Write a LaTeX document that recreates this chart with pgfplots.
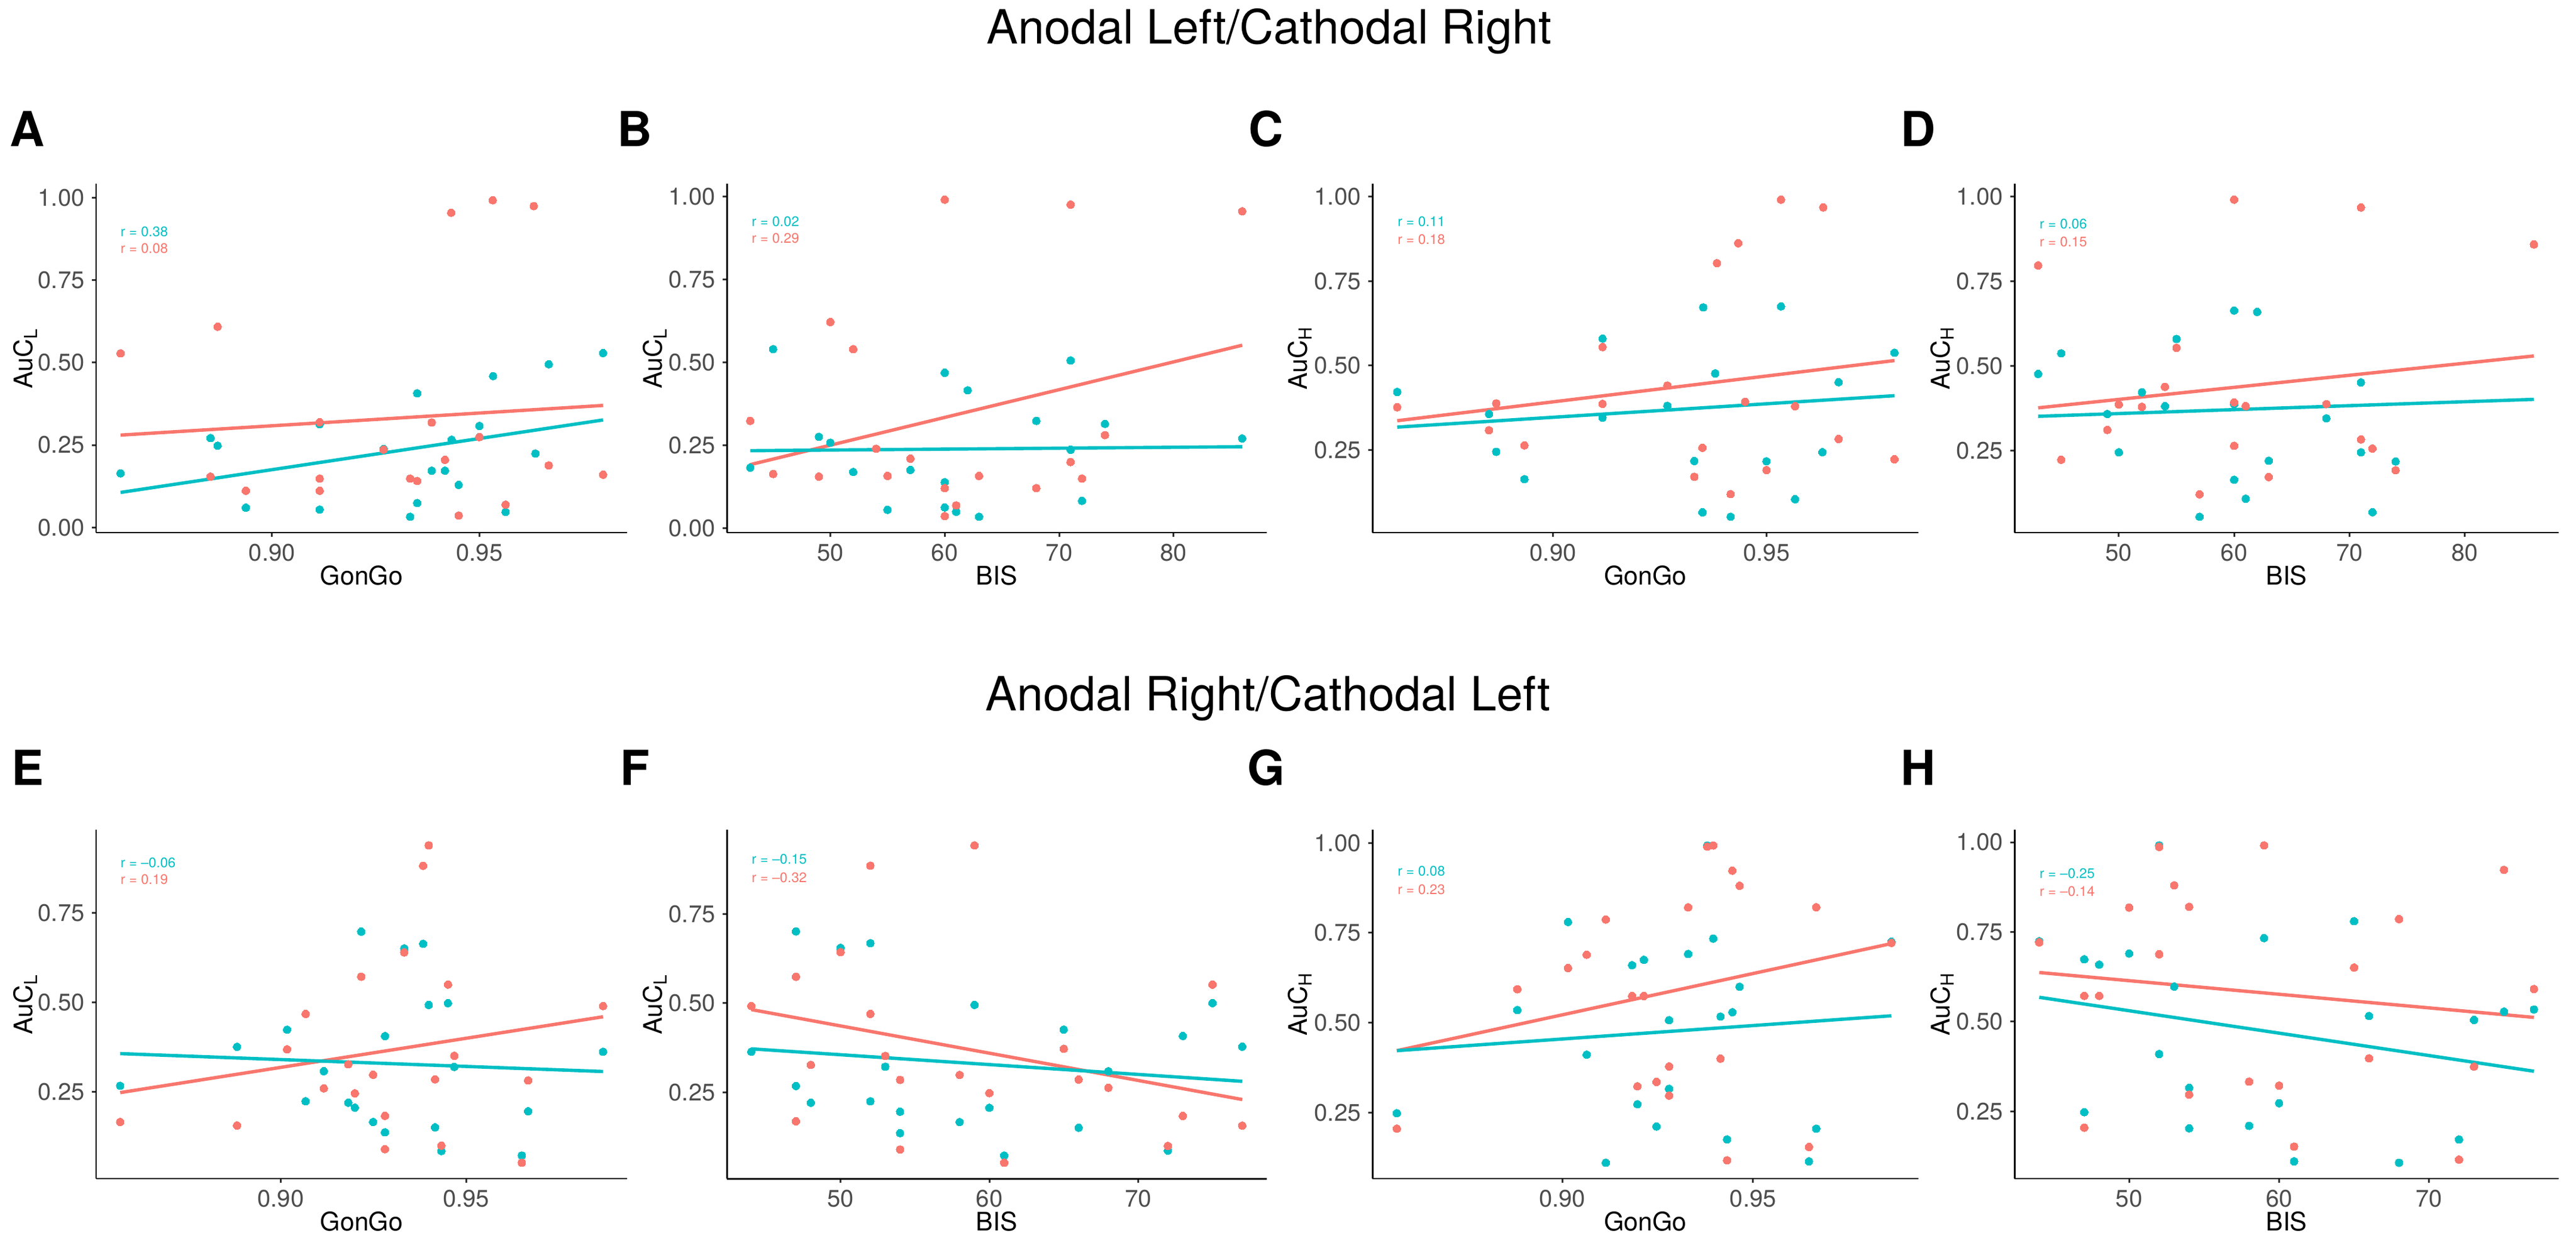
\documentclass[border=0pt]{standalone}
\usepackage{fontspec}
\setmainfont{TeX Gyre Heros}
\usepackage{pgfplots}
\pgfplotsset{compat=1.18}
\definecolor{ggred}{HTML}{F8766D}
\definecolor{ggteal}{HTML}{00BFC4}
\definecolor{tickgray}{HTML}{4D4D4D}
\newcommand\tickfont{\fontsize{11.4pt}{13pt}\selectfont}
\newcommand\labfont{\fontsize{12.2pt}{14pt}\selectfont}
\newcommand\rfont{\fontsize{6.6pt}{8pt}\selectfont}
\newcommand\letterfont{\fontsize{23pt}{27pt}\selectfont\bfseries}
\newcommand\titlefont{\fontsize{22.5pt}{27pt}\selectfont}
\pgfplotsset{
  panel/.style={
    scale only axis, anchor=south west, height=5.85cm,
    axis x line*=bottom, axis y line*=left,
    axis line style={black, line width=0.85pt, -},
    tick align=outside, major tick length=0.07cm,
    every tick/.style={black!80, line width=0.85pt},
    /pgf/number format/assume math mode=true,
    tick label style={font=\tickfont, text=tickgray},
    yticklabel style={/pgf/number format/.cd, fixed, fixed zerofill, precision=2},
    every axis x label/.style={at={(axis description cs:0.5,-0.123)}, anchor=center, font=\labfont},
    every axis y label/.style={at={(axis description cs:-0.133,0.5)}, rotate=90, anchor=center, font=\labfont},
  },
  gongo/.style={xtick={0.90,0.95}, xlabel={GonGo},
    xticklabel style={/pgf/number format/.cd, fixed, fixed zerofill, precision=2}},
  bis/.style={xlabel={BIS}},
  pts/.style={only marks, color=#1, mark=*, mark size=1.85pt, mark options={draw=#1, fill=#1, line width=0pt}},
  fit/.style={no marks, line width=1.6pt, color=#1},
}
\begin{document}
\begin{tikzpicture}
\path[use as bounding box] (0,0) rectangle (43.17,20.83);
\node[font=\titlefont, anchor=base] at (21.27,20.09) {Anodal Left/Cathodal Right};
\node[font=\titlefont, anchor=base] at (21.25,8.91) {Anodal Right/Cathodal Left};
\foreach \l/\x in {A/0.46,B/10.64,C/21.22,D/32.15} {\node[font=\letterfont, anchor=base] at (\x,18.37) {\l};}
\foreach \l/\x in {E/0.46,F/10.64,G/21.22,H/32.15} {\node[font=\letterfont, anchor=base] at (\x,7.66) {\l};}

% ---------------- A ----------------
\begin{axis}[panel, gongo, at={(1.61cm,11.90cm)}, width=8.90cm,
  xmin=0.8576, xmax=0.9856, ymin=-0.016, ymax=1.043,
  ytick={0,0.25,0.5,0.75,1}, ylabel={AuC\textsubscript{L}}]
\addplot[pts=ggteal] coordinates {(0.8635,0.164) (0.8852,0.271) (0.8869,0.248) (0.8852,0.154) (0.9115,0.313) (0.9269,0.238) (0.935,0.407) (0.9385,0.172) (0.9417,0.172) (0.9433,0.266) (0.945,0.129) (0.950,0.308) (0.950,0.274) (0.9533,0.459) (0.9635,0.224) (0.9667,0.495) (0.9798,0.529) (0.8937,0.060) (0.9115,0.054) (0.935,0.074) (0.9333,0.032) (0.9563,0.047)};
\addplot[pts=ggred] coordinates {(0.8635,0.528) (0.8869,0.609) (0.9115,0.319) (0.9385,0.318) (0.9269,0.236) (0.950,0.274) (0.9417,0.205) (0.9667,0.188) (0.9798,0.160) (0.8852,0.154) (0.9115,0.148) (0.9333,0.148) (0.935,0.141) (0.8937,0.111) (0.9115,0.111) (0.9563,0.069) (0.945,0.036) (0.9432,0.955) (0.9532,0.993) (0.9631,0.975)};
\addplot[fit=ggred] coordinates {(0.8635,0.280) (0.9798,0.370)};
\addplot[fit=ggteal] coordinates {(0.8635,0.106) (0.9798,0.326)};
\node[anchor=west, inner sep=0pt, font=\rfont, text=ggteal] at (rel axis cs:0.0455,0.862) {r = 0.38};
\node[anchor=west, inner sep=0pt, font=\rfont, text=ggred] at (rel axis cs:0.0455,0.815) {r = 0.08};
\end{axis}

% ---------------- B ----------------
\begin{axis}[panel, bis, at={(12.18cm,11.90cm)}, width=9.05cm,
  xmin=40.95, xmax=88.15, ymin=-0.014, ymax=1.038, xtick={50,60,70,80},
  ytick={0,0.25,0.5,0.75,1}, ylabel={AuC\textsubscript{L}}]
\addplot[pts=ggteal] coordinates {(43,0.182) (45,0.539) (49,0.275) (50,0.257) (52,0.169) (54,0.239) (55,0.055) (57,0.175) (60,0.468) (60,0.138) (60,0.062) (61,0.049) (62,0.415) (63,0.034) (68,0.323) (71,0.505) (71,0.236) (72,0.082) (74,0.314) (86,0.270)};
\addplot[pts=ggred] coordinates {(43,0.323) (45,0.163) (49,0.155) (50,0.621) (52,0.539) (54,0.239) (55,0.157) (57,0.209) (60,0.120) (60,0.036) (61,0.068) (63,0.157) (68,0.120) (71,0.199) (72,0.149) (74,0.280) (60,0.990) (71,0.975) (86,0.955)};
\addplot[fit=ggred] coordinates {(43,0.191) (86,0.551)};
\addplot[fit=ggteal] coordinates {(43,0.233) (86,0.245)};
\node[anchor=west, inner sep=0pt, font=\rfont, text=ggteal] at (rel axis cs:0.0455,0.891) {r = 0.02};
\node[anchor=west, inner sep=0pt, font=\rfont, text=ggred] at (rel axis cs:0.0455,0.843) {r = 0.29};
\end{axis}

% ---------------- C ----------------
\begin{axis}[panel, gongo, at={(23.00cm,11.90cm)}, width=9.15cm,
  xmin=0.8577, xmax=0.9856, ymin=0.006, ymax=1.038,
  ytick={0.25,0.5,0.75,1}, ylabel={AuC\textsubscript{H}}]
\addplot[pts=ggteal] coordinates {(0.9116,0.580) (0.980,0.538) (0.938,0.477) (0.9669,0.451) (0.8635,0.422) (0.885,0.357) (0.9268,0.381) (0.9116,0.346) (0.945,0.393) (0.8867,0.245) (0.8933,0.164) (0.9331,0.218) (0.95,0.217) (0.9631,0.244) (0.9567,0.105) (0.935,0.066) (0.9416,0.053) (0.9352,0.672) (0.9534,0.675) (0.9434,0.862)};
\addplot[pts=ggred] coordinates {(0.9116,0.555) (0.8635,0.377) (0.8867,0.388) (0.9116,0.387) (0.9268,0.441) (0.945,0.393) (0.9567,0.380) (0.885,0.309) (0.8933,0.264) (0.9669,0.283) (0.935,0.257) (0.9331,0.171) (0.95,0.191) (0.980,0.223) (0.9416,0.120) (0.9534,0.991) (0.9633,0.968) (0.9434,0.862) (0.9384,0.803)};
\addplot[fit=ggred] coordinates {(0.8635,0.337) (0.980,0.515)};
\addplot[fit=ggteal] coordinates {(0.8635,0.318) (0.980,0.411)};
\node[anchor=west, inner sep=0pt, font=\rfont, text=ggteal] at (rel axis cs:0.0455,0.891) {r = 0.11};
\node[anchor=west, inner sep=0pt, font=\rfont, text=ggred] at (rel axis cs:0.0455,0.841) {r = 0.18};
\end{axis}

% ---------------- D ----------------
\begin{axis}[panel, bis, at={(33.76cm,11.90cm)}, width=9.12cm,
  xmin=40.95, xmax=88.15, ymin=0.009, ymax=1.038, xtick={50,60,70,80},
  ytick={0.25,0.5,0.75,1}, ylabel={AuC\textsubscript{H}}]
\addplot[pts=ggteal] coordinates {(55,0.580) (45,0.538) (43,0.477) (71,0.452) (52,0.423) (54,0.382) (60,0.388) (49,0.359) (68,0.346) (50,0.246) (71,0.246) (63,0.221) (74,0.219) (60,0.165) (61,0.109) (72,0.069) (57,0.056) (60,0.664) (62,0.660) (86,0.859)};
\addplot[pts=ggred] coordinates {(55,0.554) (54,0.439) (52,0.380) (50,0.387) (60,0.393) (61,0.382) (68,0.388) (49,0.312) (71,0.284) (72,0.257) (60,0.265) (45,0.224) (74,0.193) (63,0.173) (57,0.122) (60,0.991) (71,0.968) (86,0.859) (43,0.797)};
\addplot[fit=ggred] coordinates {(43,0.377) (86,0.530)};
\addplot[fit=ggteal] coordinates {(43,0.352) (86,0.402)};
\node[anchor=west, inner sep=0pt, font=\rfont, text=ggteal] at (rel axis cs:0.0455,0.884) {r = 0.06};
\node[anchor=west, inner sep=0pt, font=\rfont, text=ggred] at (rel axis cs:0.0455,0.834) {r = 0.15};
\end{axis}

% ---------------- E ----------------
\begin{axis}[panel, gongo, at={(1.61cm,1.07cm)}, width=8.90cm,
  xmin=0.8502, xmax=0.9934, ymin=0.0077, ymax=0.983,
  ytick={0.25,0.5,0.75}, ylabel={AuC\textsubscript{L}}]
\addplot[pts=ggteal] coordinates {(0.9217,0.698) (0.9384,0.664) (0.9333,0.651) (0.9399,0.493) (0.9451,0.498) (0.9017,0.424) (0.8882,0.376) (0.9281,0.406) (0.9869,0.362) (0.9116,0.308) (0.9468,0.320) (0.8567,0.267) (0.9067,0.224) (0.9182,0.220) (0.92,0.206) (0.9249,0.166) (0.9667,0.196) (0.9281,0.137) (0.9416,0.151) (0.9433,0.085) (0.965,0.072)};
\addplot[pts=ggred] coordinates {(0.9399,0.939) (0.9384,0.882) (0.9333,0.640) (0.9217,0.572) (0.9451,0.550) (0.9067,0.468) (0.9869,0.490) (0.9017,0.369) (0.9468,0.351) (0.9182,0.327) (0.9249,0.298) (0.9416,0.285) (0.9667,0.282) (0.9116,0.260) (0.92,0.246) (0.9281,0.183) (0.8567,0.166) (0.8882,0.156) (0.9281,0.090) (0.9433,0.100) (0.965,0.052)};
\addplot[fit=ggred] coordinates {(0.8567,0.248) (0.9869,0.460)};
\addplot[fit=ggteal] coordinates {(0.8567,0.357) (0.9869,0.307)};
\node[anchor=west, inner sep=0pt, font=\rfont, text=ggteal] at (rel axis cs:0.0455,0.906) {r = --0.06};
\node[anchor=west, inner sep=0pt, font=\rfont, text=ggred] at (rel axis cs:0.0455,0.857) {r = 0.19};
\end{axis}

% ---------------- F ----------------
\begin{axis}[panel, bis, at={(12.18cm,1.07cm)}, width=9.05cm,
  xmin=42.35, xmax=78.65, ymin=0.0085, ymax=0.986, xtick={50,60,70},
  ytick={0.25,0.5,0.75}, ylabel={AuC\textsubscript{L}}]
\addplot[pts=ggteal] coordinates {(47,0.701) (52,0.668) (50,0.655) (59,0.495) (75,0.500) (65,0.426) (73,0.408) (77,0.378) (44,0.364) (53,0.322) (68,0.309) (47,0.268) (48,0.221) (52,0.225) (60,0.207) (54,0.196) (58,0.167) (66,0.151) (54,0.136) (72,0.087) (61,0.073)};
\addplot[pts=ggred] coordinates {(59,0.942) (52,0.885) (50,0.643) (47,0.574) (75,0.552) (52,0.470) (44,0.492) (65,0.372) (53,0.352) (48,0.327) (58,0.299) (54,0.285) (66,0.286) (68,0.263) (60,0.248) (73,0.184) (47,0.169) (77,0.157) (54,0.090) (72,0.100) (61,0.053)};
\addplot[fit=ggred] coordinates {(44,0.482) (77,0.230)};
\addplot[fit=ggteal] coordinates {(44,0.372) (77,0.281)};
\node[anchor=west, inner sep=0pt, font=\rfont, text=ggteal] at (rel axis cs:0.0455,0.915) {r = --0.15};
\node[anchor=west, inner sep=0pt, font=\rfont, text=ggred] at (rel axis cs:0.0455,0.862) {r = --0.32};
\end{axis}

% ---------------- G ----------------
\begin{axis}[panel, gongo, at={(23.00cm,1.07cm)}, width=9.15cm,
  xmin=0.8502, xmax=0.9934, ymin=0.066, ymax=1.037,
  ytick={0.25,0.5,0.75,1}, ylabel={AuC\textsubscript{H}}]
\addplot[pts=ggteal] coordinates {(0.938,0.993) (0.9015,0.780) (0.9396,0.734) (0.9863,0.725) (0.933,0.691) (0.9214,0.675) (0.9183,0.660) (0.9465,0.600) (0.8882,0.535) (0.9446,0.529) (0.9415,0.517) (0.928,0.507) (0.9064,0.411) (0.928,0.316) (0.9197,0.273) (0.8566,0.248) (0.9247,0.211) (0.9666,0.205) (0.9432,0.175) (0.9647,0.114) (0.9114,0.110)};
\addplot[pts=ggred] coordinates {(0.938,0.990) (0.9396,0.993) (0.9446,0.923) (0.9465,0.881) (0.933,0.821) (0.9666,0.821) (0.9114,0.787) (0.9064,0.689) (0.9015,0.652) (0.9863,0.722) (0.8882,0.593) (0.9183,0.574) (0.9214,0.574) (0.928,0.378) (0.9415,0.400) (0.9247,0.335) (0.9197,0.323) (0.928,0.297) (0.8566,0.205) (0.9647,0.154) (0.9432,0.117)};
\addplot[fit=ggred] coordinates {(0.8566,0.422) (0.9863,0.720)};
\addplot[fit=ggteal] coordinates {(0.8566,0.422) (0.9863,0.519)};
\node[anchor=west, inner sep=0pt, font=\rfont, text=ggteal] at (rel axis cs:0.0455,0.881) {r = 0.08};
\node[anchor=west, inner sep=0pt, font=\rfont, text=ggred] at (rel axis cs:0.0455,0.829) {r = 0.23};
\end{axis}

% ---------------- H ----------------
\begin{axis}[panel, bis, at={(33.76cm,1.07cm)}, width=9.12cm,
  xmin=42.35, xmax=78.65, ymin=0.063, ymax=1.035, xtick={50,60,70},
  ytick={0.25,0.5,0.75,1}, ylabel={AuC\textsubscript{H}}]
\addplot[pts=ggteal] coordinates {(52,0.991) (65,0.780) (59,0.733) (44,0.724) (50,0.690) (47,0.674) (48,0.659) (53,0.598) (77,0.534) (75,0.528) (66,0.516) (73,0.505) (52,0.410) (54,0.316) (60,0.273) (47,0.248) (58,0.210) (54,0.203) (72,0.172) (61,0.111) (68,0.107)};
\addplot[pts=ggred] coordinates {(52,0.987) (59,0.991) (75,0.923) (53,0.880) (50,0.818) (54,0.820) (68,0.786) (44,0.721) (52,0.688) (65,0.651) (47,0.572) (48,0.572) (77,0.591) (66,0.398) (73,0.375) (58,0.333) (60,0.322) (54,0.297) (47,0.205) (61,0.152) (72,0.116)};
\addplot[fit=ggred] coordinates {(44,0.637) (77,0.512)};
\addplot[fit=ggteal] coordinates {(44,0.568) (77,0.362)};
\node[anchor=west, inner sep=0pt, font=\rfont, text=ggteal] at (rel axis cs:0.0455,0.875) {r = --0.25};
\node[anchor=west, inner sep=0pt, font=\rfont, text=ggred] at (rel axis cs:0.0455,0.823) {r = --0.14};
\end{axis}
\end{tikzpicture}
\end{document}
